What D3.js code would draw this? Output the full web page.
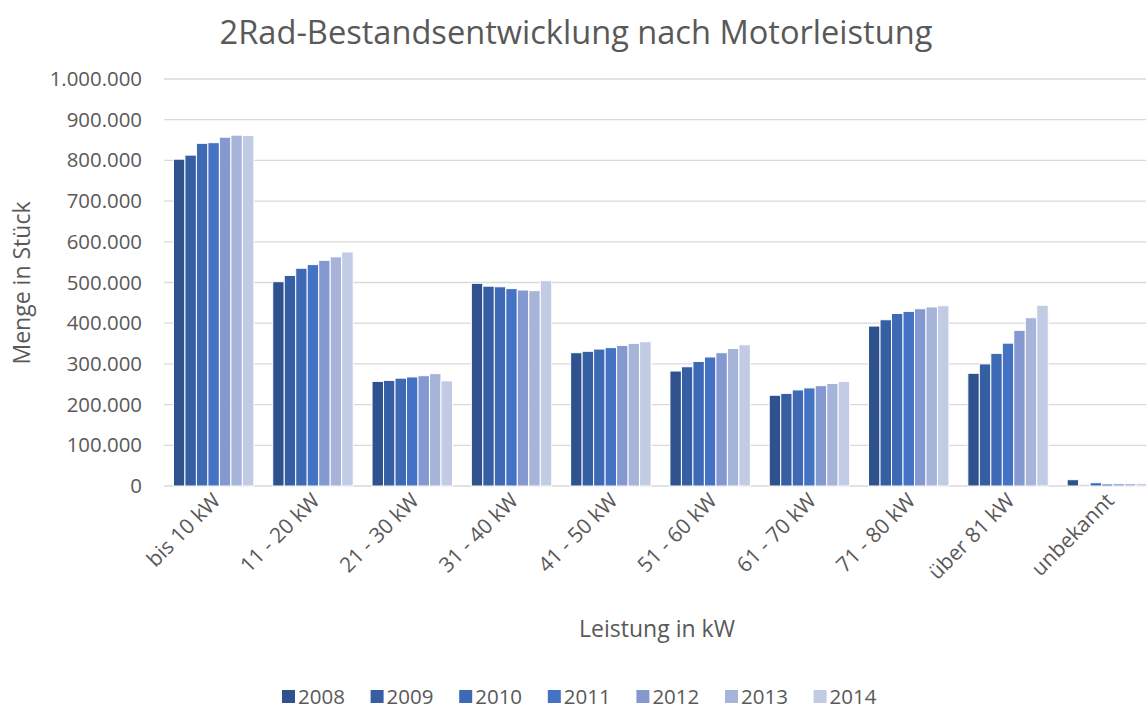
<!DOCTYPE html>
<html><head><meta charset="utf-8">
<script src="https://cdn.jsdelivr.net/npm/d3@7"></script>
<style>
html,body{margin:0;padding:0;background:#fff;}
text{font-family:"Open Sans",sans-serif;fill:#595959;}
</style></head>
<body><svg id="c" width="1146" height="709"></svg>
<script>
const categories = ["bis 10 kW","11 - 20 kW","21 - 30 kW","31 - 40 kW","41 - 50 kW","51 - 60 kW","61 - 70 kW","71 - 80 kW","über 81 kW","unbekannt"];
const years = ["2008","2009","2010","2011","2012","2013","2014"];
const v2008 = [803000,502000,257000,498000,327500,282500,223000,393000,277000,15500];
const v2009 = [813000,517500,259500,491000,331000,293000,227500,408500,300000,3000];
const v2010 = [842000,535000,265000,489500,336500,306000,236000,424000,326000,8000];
const v2011 = [843500,544000,268000,485000,340000,317000,241000,429000,351000,5000];
const v2012 = [857000,554500,271000,481500,345500,327500,246500,435500,382500,5500];
const v2013 = [862000,563000,276000,480000,350500,338000,252000,440000,413500,6000];
const v2014 = [861000,575000,258500,504500,354500,347000,257000,443000,444000,6500];
const seriesValues = [v2008,v2009,v2010,v2011,v2012,v2013,v2014];
const colors = ["#2f528f","#355ea3","#3d69b5","#4472c4","#8499d0","#a7b4da","#c2cbe4"];
const yTicks = [0,100000,200000,300000,400000,500000,600000,700000,800000,900000,1000000];

(function(){
const svg = d3.select("#c");
const pTop = 79, pBottom = 486, pLeft = 164, pRight = 1157;
const loc = d3.formatLocale({decimal:",",thousands:".",grouping:[3],currency:["","€"]});
const fmt = loc.format(",");

const y = d3.scaleLinear().domain([0,1000000]).range([pBottom,pTop]);
const x = d3.scaleBand().domain(categories).range([pLeft,pRight]).paddingInner(0.19).paddingOuter(0.095);
const xi = d3.scaleBand().domain(years).range([0,x.bandwidth()]);

svg.append("g").selectAll("line").data(yTicks).join("line")
  .attr("x1",pLeft).attr("x2",1146).attr("y1",d=>y(d)).attr("y2",d=>y(d))
  .attr("stroke","#d9d9d9").attr("stroke-width",1.3);

const ya = svg.append("g").attr("transform",`translate(${pLeft},0)`)
  .call(d3.axisLeft(y).tickValues(yTicks).tickFormat(fmt).tickSize(0).tickPadding(22));
ya.select(".domain").remove();
ya.selectAll("text").style("font-size","20.4px").style("fill","#595959").attr("font-family",null);

const groups = svg.append("g").selectAll("g").data(years).join("g").attr("fill",(d,i)=>colors[i]);
groups.selectAll("rect").data((yr,i)=>categories.map((c,j)=>({c,yr,v:seriesValues[i][j]}))).join("rect")
  .attr("x",d=>x(d.c)+xi(d.yr)).attr("width",xi.bandwidth())
  .attr("y",d=>y(d.v)).attr("height",d=>pBottom-y(d.v))
  .attr("stroke","#fff").attr("stroke-width",1);

svg.append("g").selectAll("text").data(categories).join("text")
  .attr("transform",d=>`translate(${x(d)+x.bandwidth()/2+8},${pBottom+16}) rotate(-45)`)
  .attr("text-anchor","end").style("font-size","21px").text(d=>d);

svg.append("text").attr("x",576).attr("y",44).attr("text-anchor","middle")
  .style("font-size","32.6px").text("2Rad-Bestandsentwicklung nach Motorleistung");

svg.append("text").attr("x",657).attr("y",637).attr("text-anchor","middle")
  .style("font-size","23px").text("Leistung in kW");
svg.append("text").attr("transform","translate(30,283) rotate(-90)").attr("text-anchor","middle")
  .style("font-size","23px").text("Menge in Stück");

const leg = svg.append("g").selectAll("g").data(years).join("g")
  .attr("transform",(d,i)=>`translate(${282+i*88.6},0)`);
leg.append("rect").attr("x",0).attr("y",690).attr("width",13).attr("height",13).attr("fill",(d,i)=>colors[i]);
leg.append("text").attr("x",16).attr("y",703.5).style("font-size","20.5px").text(d=>d);
})();
</script></body></html>
